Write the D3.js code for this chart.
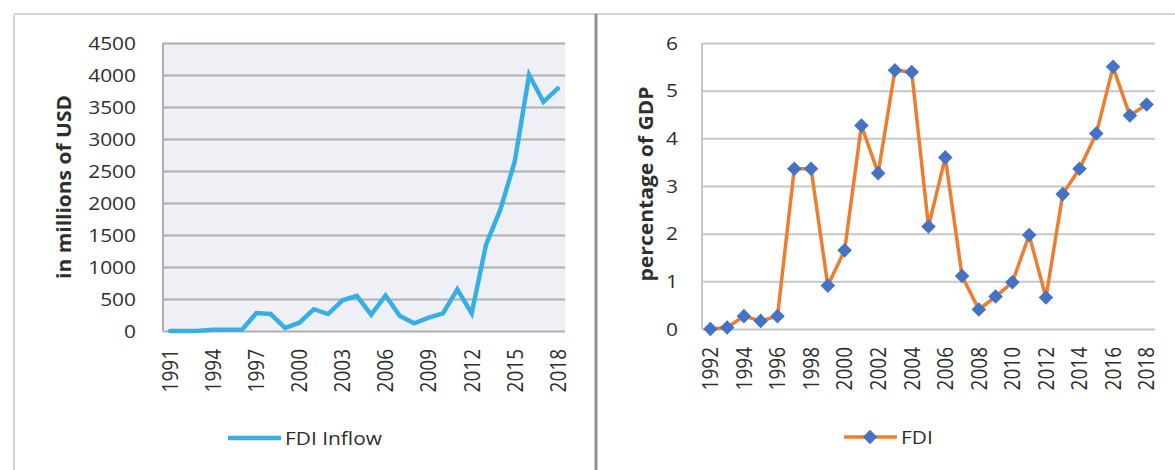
<!DOCTYPE html>
<html>
<head>
<meta charset="utf-8">
<script src="https://cdn.jsdelivr.net/npm/d3@7"></script>
<style>
  html, body { margin: 0; padding: 0; background: #ffffff; }
  svg { display: block; }
  text { font-family: "Open Sans", "Liberation Sans", sans-serif; fill: #2e2e2e; }
</style>
</head>
<body>
<svg id="chart" width="1175" height="470"></svg>
<script>
// FDI inflow, millions of USD
const inflowYears = [1991, 1992, 1993, 1994, 1995, 1996, 1997, 1998, 1999, 2000,
  2001, 2002, 2003, 2004, 2005, 2006, 2007, 2008, 2009, 2010,
  2011, 2012, 2013, 2014, 2015, 2016, 2017, 2018];
const inflowValues = [0, 0, 5, 20, 20, 20, 280, 265, 50, 130,
  340, 265, 480, 550, 255, 555, 235, 120, 210, 275,
  650, 275, 1350, 1900, 2650, 4000, 3580, 3790];
const inflowTickYears = [1991, 1994, 1997, 2000, 2003, 2006, 2009, 2012, 2015, 2018];
const inflowTicks = [0, 500, 1000, 1500, 2000, 2500, 3000, 3500, 4000, 4500];

// FDI as percentage of GDP
const gdpYears = [1992, 1993, 1994, 1995, 1996, 1997, 1998, 1999, 2000, 2001,
  2002, 2003, 2004, 2005, 2006, 2007, 2008, 2009, 2010, 2011,
  2012, 2013, 2014, 2015, 2016, 2017, 2018];
const gdpValues = [0, 0.03, 0.27, 0.17, 0.27, 3.36, 3.36, 0.91, 1.65, 4.27,
  3.27, 5.43, 5.39, 2.15, 3.6, 1.11, 0.41, 0.68, 0.98, 1.97,
  0.66, 2.83, 3.36, 4.1, 5.5, 4.48, 4.71];
const gdpTickYears = [1992, 1994, 1996, 1998, 2000, 2002, 2004, 2006, 2008, 2010,
  2012, 2014, 2016, 2018];
const gdpTicks = [0, 1, 2, 3, 4, 5, 6];

const svg = d3.select("#chart");
const STRETCH = 1.1;   // labels are set slightly wide
const textColor = "#2e2e2e";

// Panel frames
svg.append("line").attr("x1", 14).attr("y1", 14).attr("x2", 1175).attr("y2", 14)
  .attr("stroke", "#d4d4d4").attr("stroke-width", 2);
svg.append("line").attr("x1", 14).attr("y1", 14).attr("x2", 14).attr("y2", 470)
  .attr("stroke", "#d4d4d4").attr("stroke-width", 2);
svg.append("line").attr("x1", 596).attr("y1", 14).attr("x2", 596).attr("y2", 470)
  .attr("stroke", "#8f8f8f").attr("stroke-width", 3);

function drawPanel(cfg) {
  const g = svg.append("g");
  const x = d3.scalePoint().domain(cfg.years).range([cfg.left, cfg.right]).padding(0.5);
  const y = d3.scaleLinear().domain([0, cfg.max]).range([cfg.bottom, cfg.top]);

  if (cfg.bg) {
    g.append("rect").attr("x", cfg.left).attr("y", cfg.top)
      .attr("width", cfg.right - cfg.left).attr("height", cfg.bottom - cfg.top)
      .attr("fill", cfg.bg);
  }

  // horizontal gridlines
  const grid = g.append("g").attr("transform", `translate(${cfg.left},0)`)
    .call(d3.axisLeft(y).tickValues(cfg.ticks).tickSize(-(cfg.right - cfg.left)).tickFormat(""));
  grid.select(".domain").remove();
  grid.selectAll(".tick line").attr("stroke", cfg.grid).attr("stroke-width", 2);

  // value axis line
  g.append("line").attr("x1", cfg.left).attr("x2", cfg.left)
    .attr("y1", cfg.top).attr("y2", cfg.bottom)
    .attr("stroke", cfg.grid).attr("stroke-width", 2);

  // y tick labels
  const ya = g.append("g").attr("transform", `translate(${cfg.left},0)`)
    .call(d3.axisLeft(y).tickValues(cfg.ticks).tickFormat(d3.format("d"))
      .tickSize(0).tickPadding(cfg.yPad));
  ya.select(".domain").remove();
  ya.selectAll(".tick text").each(function () {
    const t = d3.select(this);
    const tx = +t.attr("x");
    t.attr("x", 0).attr("transform", `translate(${tx},0) scale(${STRETCH},1)`)
      .attr("font-size", 19).attr("fill", textColor)
      .style("font-family", "Open Sans");
  });

  // x tick labels, rotated
  const xa = g.append("g").attr("transform", `translate(0,${cfg.bottom})`)
    .call(d3.axisBottom(x).tickValues(cfg.tickYears).tickFormat(d3.format("d")).tickSize(0));
  xa.select(".domain").remove();
  xa.selectAll(".tick text")
    .attr("x", 0).attr("y", 0).attr("dy", "0.35em")
    .attr("text-anchor", "end")
    .attr("transform", `translate(0,${cfg.labelTop - cfg.bottom}) scale(${STRETCH},1) rotate(-90)`)
    .attr("font-size", 19).attr("fill", textColor)
    .style("font-family", "Open Sans");

  // axis title
  g.append("text")
    .attr("transform", `translate(${cfg.titleX},${cfg.titleY}) rotate(-90)`)
    .attr("text-anchor", "middle").attr("dy", "0.35em")
    .attr("font-size", 19).attr("font-weight", "bold")
    .attr("textLength", cfg.titleLen).attr("lengthAdjust", "spacingAndGlyphs")
    .attr("fill", textColor)
    .text(cfg.title);

  const line = d3.line().x((d, i) => x(cfg.years[i])).y(d => y(d));
  g.append("path").datum(cfg.values)
    .attr("d", line).attr("fill", "none")
    .attr("stroke", cfg.color).attr("stroke-width", cfg.lineWidth)
    .attr("stroke-linejoin", "miter").attr("stroke-linecap", "round");

  return { g, x, y };
}

// Left panel: inflow in millions of USD
drawPanel({
  years: inflowYears, values: inflowValues, ticks: inflowTicks, tickYears: inflowTickYears,
  max: 4500, left: 163, right: 565, top: 43, bottom: 331, bg: "#eef0f6", grid: "#afafaf",
  yPad: 27, labelTop: 349, color: "#37aee6", lineWidth: 4.5,
  title: "in millions of USD", titleX: 64, titleY: 187, titleLen: 184
});

// Right panel: percentage of GDP
const right = drawPanel({
  years: gdpYears, values: gdpValues, ticks: gdpTicks, tickYears: gdpTickYears,
  max: 6, left: 702, right: 1155, top: 43, bottom: 329, bg: null, grid: "#c6c6c6",
  yPad: 24, labelTop: 347, color: "#ed7d31", lineWidth: 3.5,
  title: "percentage of GDP", titleX: 646, titleY: 184, titleLen: 195
});

const diamond = d3.symbol().type(d3.symbolDiamond2).size(135);
right.g.append("g").selectAll("path").data(gdpValues).join("path")
  .attr("d", diamond)
  .attr("transform", (d, i) => `translate(${right.x(gdpYears[i])},${right.y(d)})`)
  .attr("fill", "#4472c4");

// Legends
const leg1 = svg.append("g");
leg1.append("line").attr("x1", 228).attr("x2", 281).attr("y1", 438).attr("y2", 438)
  .attr("stroke", "#37aee6").attr("stroke-width", 4.5);
leg1.append("text").attr("x", 0).attr("y", 0).attr("dy", "0.35em")
  .attr("transform", `translate(285,438) scale(${STRETCH},1)`)
  .attr("font-size", 19).attr("fill", textColor).text("FDI Inflow");

const leg2 = svg.append("g");
leg2.append("line").attr("x1", 844).attr("x2", 897).attr("y1", 437).attr("y2", 437)
  .attr("stroke", "#ed7d31").attr("stroke-width", 3.5);
leg2.append("path").attr("d", diamond).attr("transform", "translate(870,437)").attr("fill", "#4472c4");
leg2.append("text").attr("x", 0).attr("y", 0).attr("dy", "0.35em")
  .attr("transform", `translate(901,437) scale(${STRETCH},1)`)
  .attr("font-size", 19).attr("fill", textColor).text("FDI");
</script>
</body>
</html>
